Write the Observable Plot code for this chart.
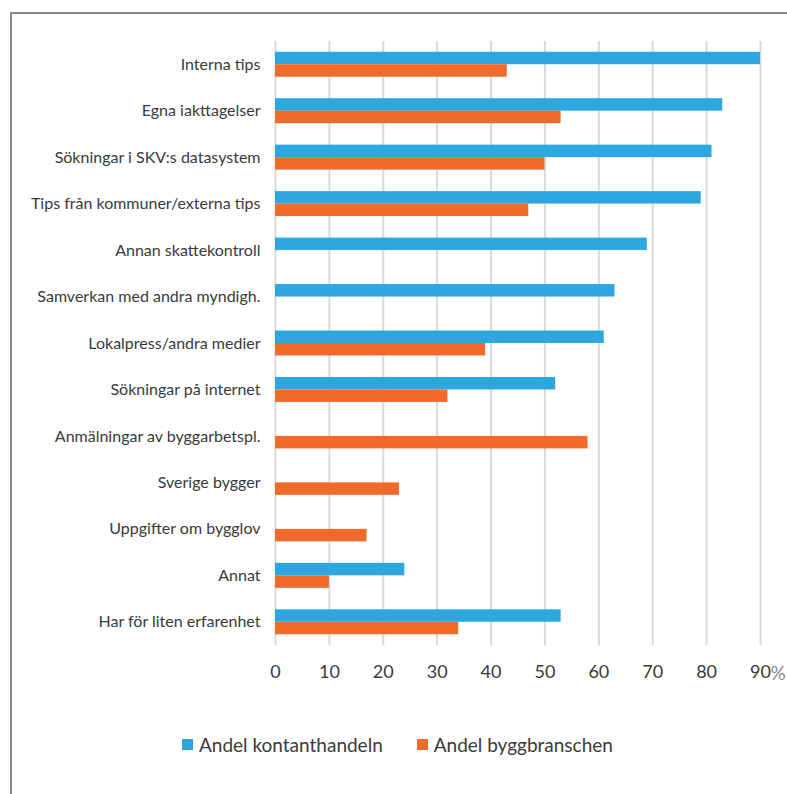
<!DOCTYPE html>
<html>
<head>
<meta charset="utf-8">
<script src="https://cdn.jsdelivr.net/npm/d3@7"></script>
<script src="https://cdn.jsdelivr.net/npm/@observablehq/plot@0.6"></script>
<style>
  body { margin: 0; background: #fff; font-family: Lato, "Open Sans", sans-serif; }
  #wrap { position: relative; width: 787px; height: 794px; overflow: hidden; background: #fff; }
  #chart { position: absolute; left: 0; top: 0; }
  #frame { position: absolute; left: 10px; top: 12px; width: 900px; height: 900px;
           border-left: 2px solid #8a8a8a; border-top: 2px solid #8a8a8a; z-index: 2; pointer-events: none; }
  #legend { position: absolute; top: 733px; left: 182px; display: flex; align-items: center;
            font-size: 19px; color: #3a3a3a; }
  .item { display: flex; align-items: center; }
  .sw { width: 11px; height: 11px; margin-right: 6px; }
</style>
</head>
<body>
<div id="wrap">
  <div id="chart"></div>
  <div id="frame"></div>
  <div id="legend"></div>
</div>
<script>
const categories = [
  "Interna tips",
  "Egna iakttagelser",
  "Sökningar i SKV:s datasystem",
  "Tips från kommuner/externa tips",
  "Annan skattekontroll",
  "Samverkan med andra myndigh.",
  "Lokalpress/andra medier",
  "Sökningar på internet",
  "Anmälningar av byggarbetspl.",
  "Sverige bygger",
  "Uppgifter om bygglov",
  "Annat",
  "Har för liten erfarenhet"
];
const kontanthandeln = [90, 83, 81, 79, 69, 63, 61, 52, null, null, null, 24, 53];
const byggbranschen  = [43, 53, 50, 47, null, null, 39, 32, 58, 23, 17, 10, 34];
const seriesNames = ["Andel kontanthandeln", "Andel byggbranschen"];
const seriesColors = ["#2da7df", "#f06a2c"];
const xTicks = [0, 10, 20, 30, 40, 50, 60, 70, 80, 90];
const unitLabel = "%";

const rowsK = categories.map((c, i) => ({cat: c, value: kontanthandeln[i]})).filter(d => d.value != null);
const rowsB = categories.map((c, i) => ({cat: c, value: byggbranschen[i]})).filter(d => d.value != null);

const chart = Plot.plot({
  width: 787,
  height: 700,
  marginLeft: 275,
  marginRight: 27,
  marginTop: 41,
  marginBottom: 55,
  style: {fontFamily: "Lato, 'Open Sans', sans-serif", color: "#3a3a3a", background: "transparent"},
  x: {domain: [0, 90]},
  y: {domain: categories, padding: 0, round: false},
  marks: [
    Plot.ruleX(xTicks, {x: d => d, stroke: "#d9d9d9", strokeWidth: 2}),
    Plot.barX(rowsK, {x: "value", y: "cat", fill: seriesColors[0], insetTop: 17, insetBottom: 17, dy: -6.25}),
    Plot.barX(rowsB, {x: "value", y: "cat", fill: seriesColors[1], insetTop: 17, insetBottom: 17, dy: 6.25}),
    Plot.axisY({tickSize: 0, tickPadding: 15, fontSize: 16, label: null}),
    Plot.axisX(xTicks, {tickSize: 0, tickPadding: 20, fontSize: 18, label: null, tickFormat: d => String(d)}),
    Plot.text([90], {x: d => d, text: () => unitLabel, frameAnchor: "bottom", dy: 34, dx: 10,
                     textAnchor: "start", fontSize: 19, fill: "#8a8a8a"})
  ]
});
document.getElementById("chart").appendChild(chart);

const legend = document.getElementById("legend");
seriesNames.forEach((name, i) => {
  const item = document.createElement("div");
  item.className = "item";
  if (i > 0) item.style.marginLeft = "34px";
  const sw = document.createElement("div");
  sw.className = "sw";
  sw.style.background = seriesColors[i];
  const t = document.createElement("span");
  t.textContent = name;
  item.appendChild(sw);
  item.appendChild(t);
  legend.appendChild(item);
});
</script>
</body>
</html>
